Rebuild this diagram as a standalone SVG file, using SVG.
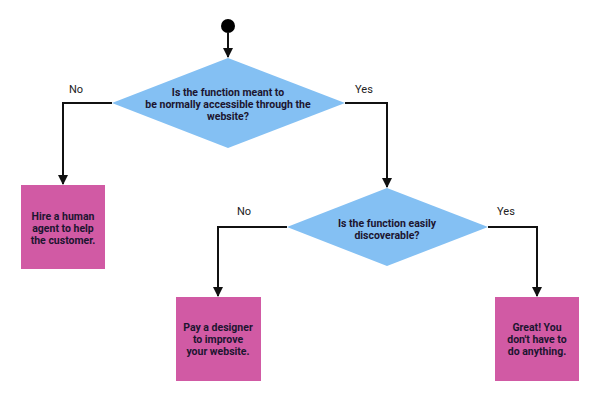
<svg xmlns="http://www.w3.org/2000/svg" width="600" height="400" viewBox="0 0 600 400">
<style>
.dia{fill:#84c0f3}
.box{fill:#d15aa4}
.t{font-family:Roboto,"Liberation Sans",Arial,sans-serif;font-size:10.5px;font-weight:bold;fill:#1c1530;text-anchor:middle}
.lbl{font-family:Roboto,"Liberation Sans",Arial,sans-serif;font-size:11px;fill:#222;text-anchor:middle}
.c{fill:none;stroke:#111;stroke-width:2}
</style>
<defs>
<marker id="ah" viewBox="0 0 10 10" refX="9" refY="5" markerWidth="5" markerHeight="5" orient="auto" markerUnits="strokeWidth">
<path d="M0,0L10,5L0,10z" fill="#111"/>
</marker>
</defs>
<rect width="600" height="400" fill="#fff"/>
<g id="connectors">
<path class="c" d="M228,33V57" marker-end="url(#ah)"/>
<path class="c" d="M112,103H63V184" marker-end="url(#ah)"/>
<path class="c" d="M345,103H387V187" marker-end="url(#ah)"/>
<path class="c" d="M287,227H218V296" marker-end="url(#ah)"/>
<path class="c" d="M488,227H537V296" marker-end="url(#ah)"/>
<text class="lbl" x="76" y="93">No</text>
<text class="lbl" x="364" y="93">Yes</text>
<text class="lbl" x="244" y="215">No</text>
<text class="lbl" x="506" y="215">Yes</text>
</g>
<g id="start"><circle cx="228" cy="26" r="7" fill="#000"/></g>
<g id="q1">
<polygon class="dia" points="228,58 345,103 228,148 112,103"/>
<text class="t" x="228" y="96">Is the function meant to</text>
<text class="t" x="228" y="108">be normally accessible through the</text>
<text class="t" x="228" y="120">website?</text>
</g>
<g id="q2">
<polygon class="dia" points="387,188 488,227 387,266 287,227"/>
<text class="t" x="387" y="227">Is the function easily</text>
<text class="t" x="387" y="239">discoverable?</text>
</g>
<g id="agent">
<rect class="box" x="21" y="185" width="84" height="84"/>
<text class="t" x="63" y="220">Hire a human</text>
<text class="t" x="63" y="232">agent to help</text>
<text class="t" x="63" y="244">the customer.</text>
</g>
<g id="designer">
<rect class="box" x="176" y="297" width="85" height="84"/>
<text class="t" x="218" y="331">Pay a designer</text>
<text class="t" x="218" y="343">to improve</text>
<text class="t" x="218" y="355">your website.</text>
</g>
<g id="great">
<rect class="box" x="495" y="297" width="84" height="84"/>
<text class="t" x="537" y="331">Great! You</text>
<text class="t" x="537" y="343">don't have to</text>
<text class="t" x="537" y="355">do anything.</text>
</g>
</svg>
